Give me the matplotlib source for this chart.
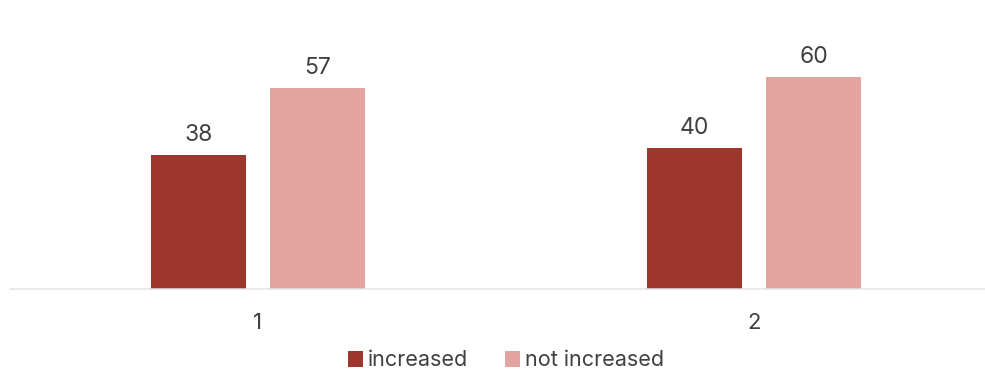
import matplotlib.pyplot as plt
import numpy as np

plt.rcParams['font.family'] = ['Inter', 'DejaVu Sans']

categories = ['1', '2']
series_names = ['increased', 'not increased']
increased = [38, 40]
not_increased = [57, 60]
colors = ['#9E362D', '#E3A49F']
text_color = '#404040'

W, H = 985, 373
fig = plt.figure(figsize=(W / 100, H / 100), dpi=100)
# axes a little wider than the figure (the original chart is cut on the right)
ax = fig.add_axes([10 / W, 84 / H, 992 / W, 247 / H])

x = np.arange(len(categories))
bw = 0.19
off = 0.12
b1 = ax.bar(x - off, increased, bw, color=colors[0], label=series_names[0])
b2 = ax.bar(x + off, not_increased, bw, color=colors[1], label=series_names[1])

for bars, vals in ((b1, increased), (b2, not_increased)):
    for r, v in zip(bars, vals):
        ax.text(r.get_x() + r.get_width() / 2, v + 2.6, str(v),
                ha='center', va='bottom', fontsize=16.5, color=text_color)

ax.set_xlim(-0.5, 1.5)
ax.set_ylim(0, 70)
ax.set_xticks(x)
ax.set_xticklabels(categories, fontsize=16, color=text_color)
ax.tick_params(axis='x', length=0, pad=17)
ax.set_yticks([])
for s in ['top', 'right', 'left']:
    ax.spines[s].set_visible(False)
ax.spines['bottom'].set_color('#E4E4E4')
ax.spines['bottom'].set_linewidth(1.1)

fig.legend(handles=[b1, b2], loc='lower center', bbox_to_anchor=(506 / W, -0.045),
           ncol=2, frameon=False, fontsize=15.5, handlelength=0.7, handleheight=0.75,
           handletextpad=0.25, columnspacing=1.7, labelcolor=text_color)

fig.savefig('out.png', dpi=100)
